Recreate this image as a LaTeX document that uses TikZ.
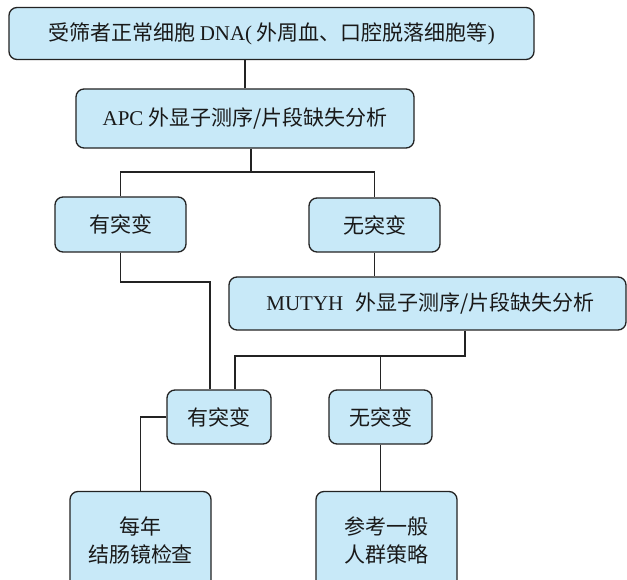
\documentclass[tikz,border=0pt]{standalone}
\usepackage{fontspec}
\setmainfont{Noto Sans CJK SC}
\newfontfamily\lat{Liberation Serif}
\definecolor{boxfill}{RGB}{200,233,248}
\definecolor{edge}{RGB}{35,35,35}
\begin{document}
\begin{tikzpicture}[x=1pt,y=-1pt,
  box/.style={draw=edge, fill=boxfill, line width=1.3pt, rounded corners=8pt,
    inner sep=0pt, align=center, text=black!90, font=\fontsize{21}{28}\selectfont},
  link/.style={draw=edge, line width=1.3pt}]
\useasboundingbox (0,0) rectangle (627,580);
\clip (0,0) rectangle (627,580);
\fill[white] (0,0) rectangle (627,580);
\node[box, minimum width=525pt, minimum height=52pt] (b1) at (271.5,33.5) {受筛者正常细胞 {\lat DNA(} 外周血、口腔脱落细胞等{\lat )}};
\node[box, minimum width=338pt, minimum height=59pt] (b2) at (245,118.5) {{\lat APC} 外显子测序/片段缺失分析};
\node[box, minimum width=131pt, minimum height=55pt] (b3) at (120.5,224.5) {有突变};
\node[box, minimum width=131pt, minimum height=54pt] (b4) at (374.5,225) {无突变};
\node[box, minimum width=397pt, minimum height=53pt] (b5) at (427.5,303.5) {\hspace{6pt}{\lat MUTYH}\hspace{12pt}外显子测序/片段缺失分析};
\node[box, minimum width=104pt, minimum height=54pt] (b6) at (219,417) {有突变};
\node[box, minimum width=103pt, minimum height=54pt] (b7) at (380.5,417) {无突变};
\node[box, minimum width=141pt, minimum height=97pt] (b8) at (140.5,540) {每年\\结肠镜检查};
\node[box, minimum width=141pt, minimum height=97pt] (b9) at (386.5,540) {参考一般\\人群策略};
\coordinate (j1) at (251,172);
\coordinate (j2) at (210,282);
\coordinate (j3) at (465,356);
\coordinate (j4) at (235,356);
\draw[link] (b2.north) -- (b2.north |- b1.south);
\draw[link] (b2.south -| j1) -- (j1);
\draw[link] (b3.north) |- (j1) -| (b4.north);
\draw[link] (b3.south) -- (b3.south |- j2) -- (j2) -- (j2 |- b6.north);
\draw[link] (b4.south) -- (b4.south |- b5.north);
\draw[link] (j3 |- b5.south) -- (j3) -- (j4) -- (j4 |- b6.north);
\draw[link] (b7.north) -- (b7.north |- j3);
\draw[link] (b6.west) -| (b8.north);
\draw[link] (b7.south) -- (b7.south |- b9.north);
\end{tikzpicture}
\end{document}
